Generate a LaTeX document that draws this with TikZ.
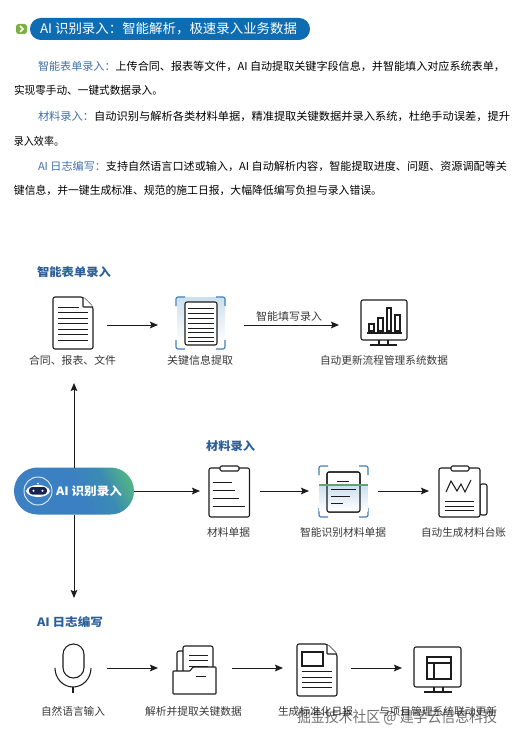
\documentclass[tikz,border=0pt]{standalone}
\usepackage{fontspec}
\usepackage{graphicx}
\setmainfont{Noto Sans CJK SC}
\usetikzlibrary{arrows.meta}
\definecolor{ink}{HTML}{1C1C1C}
\definecolor{labelgray}{HTML}{383838}
\definecolor{headblue}{HTML}{2A5F98}
\definecolor{leadblue}{HTML}{3F6FA8}
\definecolor{pillblue}{HTML}{0E6DB2}
\definecolor{scanblue}{HTML}{3F7FB5}
\definecolor{scanfill}{HTML}{CBDFEE}
\definecolor{pb1}{HTML}{3B80C2}
\definecolor{pb2}{HTML}{3A8BB4}
\definecolor{pb3}{HTML}{55B97F}
\definecolor{robotnavy}{HTML}{182450}
\definecolor{tipgreen}{HTML}{7AB042}
\definecolor{scangreen}{HTML}{5FA37A}
\pgfdeclarehorizontalshading{aipill}{100bp}{color(0bp)=(pb1);color(52bp)=(pb1);color(66bp)=(pb2);color(80bp)=(pb3);color(100bp)=(pb3)}
\newcommand{\tline}[6]{%
  \pgfmathsetlengthmacro{\tlinew}{(#3-#2)*0.75}%
  \node[anchor=west,inner sep=0pt,outer sep=0pt,#5] (#1) at (#2,#4) {\resizebox{\tlinew}{\height}{#6}};}
\newcommand{\brk}[5]{%
  \draw[scanline] (#1+#5,#2)--(#1+2,#2) to[out=180,in=90] (#1,#2+2)--(#1,#2+#5);
  \draw[scanline] (#3-#5,#2)--(#3-2,#2) to[out=0,in=90] (#3,#2+2)--(#3,#2+#5);
  \draw[scanline] (#1+#5,#4)--(#1+2,#4) to[out=180,in=-90] (#1,#4-2)--(#1,#4-#5);
  \draw[scanline] (#3-#5,#4)--(#3-2,#4) to[out=0,in=-90] (#3,#4-2)--(#3,#4-#5);}
\tikzset{
  x=0.75pt,y=-0.75pt,
  paratext/.style={font=\fontsize{8.25pt}{10pt}\selectfont,text=black},
  captext/.style={font=\fontsize{8pt}{10pt}\selectfont,text=labelgray},
  headtext/.style={font=\fontsize{8.6pt}{10pt}\selectfont\bfseries,text=headblue},
  iconshape/.style={draw=ink,line width=0.8pt,rounded corners=1.5pt,fill=white,line join=round},
  iconrule/.style={draw=ink,line width=0.8pt},
  thinrule/.style={draw=ink,line width=0.65pt},
  scanline/.style={draw=scanblue,line width=0.85pt},
  slotbox/.style={inner sep=0pt,outer sep=0pt,minimum height=1pt},
  flowline/.style={draw=ink,line width=0.7pt,-{Stealth[length=6pt,width=5pt,inset=1pt]}},
}
\begin{document}
\begin{tikzpicture}
\useasboundingbox[fill=white] (0,0) rectangle (514,741);

% title
\fill[rounded corners=2pt,tipgreen] (16,24) rectangle (27,34);
\draw[white,line width=1.1pt] (20,26)--(23,29)--(20,32);
\fill[pillblue,rounded corners=8.2pt] (30,18) rectangle (310,40);
\tline{title}{40}{297}{29}{font=\fontsize{9.8pt}{11pt}\selectfont,text=white}{AI 识别录入：智能解析，极速录入业务数据}

% paragraphs
\tline{p1}{38}{505}{66}{paratext}{\textcolor{leadblue}{智能表单录入：}上传合同、报表等文件，AI 自动提取关键字段信息，并智能填入对应系统表单，}
\tline{p2}{14}{163}{90}{paratext}{实现零手动、一键式数据录入。}
\tline{p3}{38}{510}{116}{paratext}{\textcolor{leadblue}{材料录入：}自动识别与解析各类材料单据，精准提取关键数据并录入系统，杜绝手动误差，提升}
\tline{p4}{14}{64}{141}{paratext}{录入效率。}
\tline{p5}{38}{507}{166}{paratext}{\textcolor{leadblue}{AI 日志编写：}支持自然语言口述或输入，AI 自动解析内容，智能提取进度、问题、资源调配等关}
\tline{p6}{14}{382}{190}{paratext}{键信息，并一键生成标准、规范的施工日报，大幅降低编写负担与录入错误。}

% headings
\tline{h1}{37}{111}{272}{headtext}{智能表单录入}
\tline{h2}{206}{255}{446}{headtext}{材料录入}
\tline{h3}{37}{103}{622}{headtext}{AI 日志编写}

% connector slots
\node[slotbox,minimum width=51pt]   (sDoc)    at (73,325) {};
\node[slotbox,minimum width=64.5pt] (sScan)   at (201,325) {};
\node[slotbox,minimum width=67.5pt] (sMon)    at (384,325) {};
\node[slotbox,minimum width=45pt]   (sClip)   at (230,491) {};
\node[slotbox,minimum width=51.75pt](sScanB)  at (343.5,491) {};
\node[slotbox,minimum width=51pt]   (sLedger) at (463,491) {};
\node[slotbox,minimum width=51pt]   (sMic)    at (73,668) {};
\node[slotbox,minimum width=55.5pt] (sFold)   at (195,668) {};
\node[slotbox,minimum width=51pt]   (sRep)    at (317,668) {};
\node[slotbox,minimum width=53.25pt](sMonB)   at (437.5,668) {};
\coordinate (upEnd) at (74,383);
\coordinate (downEnd) at (74,598);

% AI pill
\node[inner sep=0pt,outer sep=0pt,minimum width=90pt,minimum height=35.25pt,rounded corners=17.6pt,shade,shading=aipill,shading angle=25] (ai) at (74,491) {};
\draw[flowline] (ai.north) -- (upEnd);
\draw[flowline] (ai.south) -- (downEnd);
\draw[flowline] (ai.east) -- (sClip.west);
\draw[white!85!pb1,line width=0.7pt] (38,491) circle[radius=14];
\fill[white] (26,491) .. controls (28,483) and (48,483) .. (50,491) .. controls (48,499) and (28,499) .. (26,491);
\fill[white] (38,483.6) circle[radius=1];
\fill[robotnavy,rounded corners=2.5pt] (29,487) rectangle (47,494.5);
\fill[white] (33.5,490.7) circle[radius=1.1];
\fill[white] (42.5,490.7) circle[radius=1.1];
\tline{aiText}{56}{122}{491}{font=\fontsize{8.6pt}{10pt}\selectfont\bfseries,text=white}{AI 识别录入}

% flows
\draw[flowline] (sDoc.east) -- (sScan.west);
\draw[flowline] (sScan.east) -- (sMon.west);
\draw[flowline] (sClip.east) -- (sScanB.west);
\draw[flowline] (sScanB.east) -- (sLedger.west);
\draw[flowline] (sMic.east) -- (sFold.west);
\draw[flowline] (sFold.east) -- (sRep.west);
\draw[flowline] (sRep.east) -- (sMonB.west);

% document icon
\draw[iconshape] (53,297)--(83,297)--(93,307)--(93,349)--(53,349)--cycle;
\draw[iconshape,rounded corners=0.5pt] (83,297)--(83,307)--(93,307);
\draw[thinrule] (58,307)--(79,307);
\foreach \yy in {312,318,323,329,334,340}{\draw[thinrule] (58,\yy)--(88,\yy);}

% scan icon 1
\shade[top color=scanfill,bottom color=white] (177,297) rectangle (225,342);
\brk{176}{297}{225}{349}{9}
\draw[iconshape,fill=white] (185,302) rectangle (217,345);
\foreach \yy in {308,313,318,323,328,332,337,341}{\draw[thinrule] (188,\yy)--(214,\yy);}

% monitor 1
\draw[iconshape] (361,300) rectangle (407,340);
\draw[iconrule] (379,340)--(379,345) (388,340)--(388,345);
\draw[iconrule,line width=1.1pt] (370,345)--(397,345);
\draw[iconrule] (367,333)--(402,333);
\draw[iconrule] (369,331)--(369,324)--(374,324)--(374,331)--cycle;
\draw[iconrule] (378,331)--(378,318)--(383,318)--(383,331)--cycle;
\draw[iconrule] (387,331)--(387,308)--(391,308)--(391,331)--cycle;
\draw[iconrule] (395,331)--(395,315)--(400,315)--(400,331)--cycle;

% clipboard
\draw[iconshape] (209,468) rectangle (249.5,517);
\draw[iconshape,fill=white,rounded corners=1pt] (220,466) rectangle (239,471);
\draw[thinrule] (213,482)--(232,482) (213,490)--(235,490) (213,498)--(239,498) (213,506)--(245,506);

% scan icon 2
\brk{319}{466}{368}{517}{9}
\draw[iconshape] (327,472) rectangle (360,512);
\shade[top color=scanfill,bottom color=white] (319.5,485) rectangle (367.5,511);
\draw[iconshape,fill=none] (327,472) rectangle (360,512);
\draw[draw=scangreen,line width=0.8pt] (319,485)--(368,485);
\draw[thinrule] (337,481)--(349,481);
\draw[thinrule] (331,489)--(356,489) (331,496)--(350,496) (331,503)--(343,503);

% ledger
\draw[iconshape] (480,484) rectangle (487,515);
\draw[iconshape] (439,468) rectangle (480,517);
\draw[iconshape,fill=white,rounded corners=1pt] (451,466) rectangle (469,471);
\draw[iconrule,line join=miter] (446,492)--(451,481)--(457,491)--(461,484)--(465,492)--(471,480);
\draw[thinrule] (445,501)--(474,501) (445,506)--(474,506) (445,510)--(474,510);

% microphone
\draw[iconshape,rounded corners=7.8pt] (63,644) rectangle (84,678);
\draw[iconrule] (55,668) arc[start angle=180,end angle=360,x radius=18,y radius=-19];
\draw[iconrule,line width=1.1pt] (73,687)--(73,693);

% folder
\draw[iconshape] (177,672)--(177,651)--(183,651);
\draw[iconshape] (183,672)--(183,646)--(213,646)--(213,672);
\draw[thinrule] (189,655)--(208,655) (189,660)--(208,660) (189,666)--(208,666);
\draw[iconshape,rounded corners=0.5pt] (173,694)--(173,671)--(190,671)--(193,667)--(216,667)--(216,694)--cycle;
\draw[thinrule] (196,676)--(206,676);

% report
\draw[iconshape] (297,644)--(327,644)--(337,654)--(337,696)--(297,696)--cycle;
\draw[iconshape,rounded corners=0.5pt] (327,644)--(327,654)--(337,654);
\draw[iconrule] (302,652) rectangle (323,666);
\draw[thinrule] (302,671)--(332,671) (302,677)--(332,677) (302,682)--(332,682) (302,687)--(332,687);

% monitor 2
\draw[iconshape] (414,647) rectangle (461,687);
\draw[iconrule] (434,687)--(434,692) (443,687)--(443,692);
\draw[iconrule,line width=1.1pt] (424,692)--(452,692);
\draw[iconrule] (427,657) rectangle (451,679);
\draw[iconrule] (427,663)--(451,663);
\draw[iconrule] (434,663)--(434,679);

% captions
\tline{c1}{29}{116}{360}{captext}{合同、报表、文件}
\tline{c2}{167}{233}{360}{captext}{关键信息提取}
\tline{c3}{256}{322}{316}{captext}{智能填写录入}
\tline{c4}{320}{448}{360}{captext}{自动更新流程管理系统数据}
\tline{c5}{207}{250}{532}{captext}{材料单据}
\tline{c6}{300}{386}{532}{captext}{智能识别材料单据}
\tline{c7}{421}{506}{532}{captext}{自动生成材料台账}
\tline{c8}{41}{105}{711}{captext}{自然语言输入}
\tline{c9}{145}{242}{711}{captext}{解析并提取关键数据}
\tline{c10}{278}{353}{711}{captext}{生成标准化日报}
\tline{c11}{379}{497}{711}{captext}{与项目管理系统联动更新}

% watermark
\tline{wm}{297}{497}{717}{font=\fontsize{11.5pt}{13pt}\selectfont,text=black,opacity=0.55}{掘金技术社区 @ 建学云信息科技}
\end{tikzpicture}
\end{document}
